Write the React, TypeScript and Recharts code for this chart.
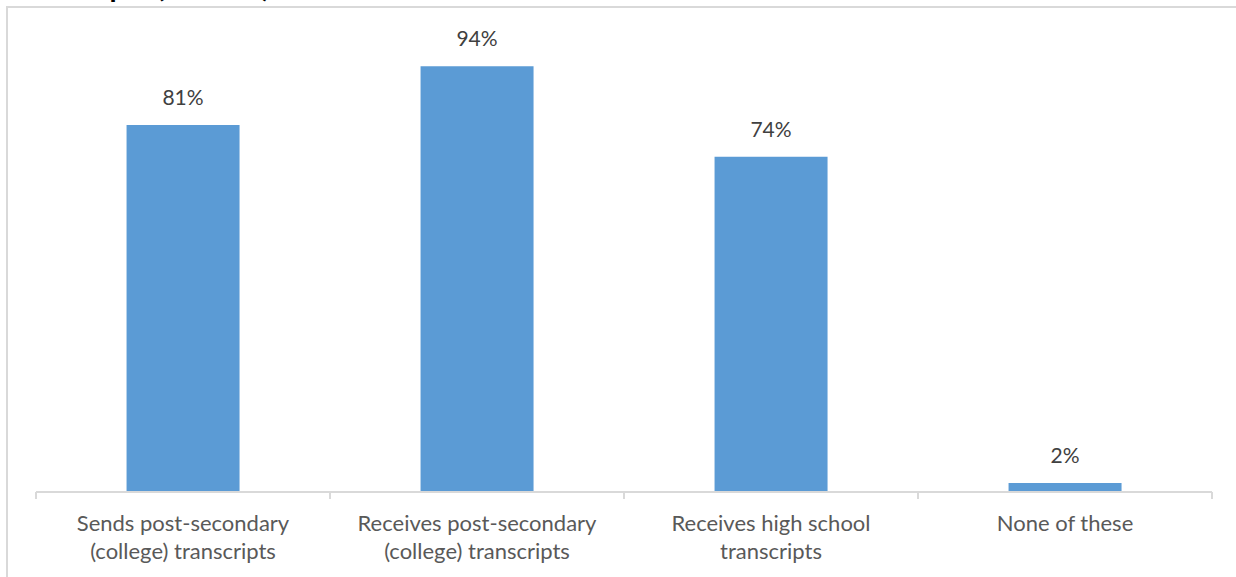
import { BarChart, Bar, XAxis, YAxis, LabelList } from "recharts";

// share of respondents handling each kind of transcript
const categories = [
    "Sends post-secondary (college) transcripts",
    "Receives post-secondary (college) transcripts",
    "Receives high school transcripts",
    "None of these",
];
const tickLabels = [
    ["Sends post-secondary", "(college) transcripts"],
    ["Receives post-secondary", "(college) transcripts"],
    ["Receives high school", "transcripts"],
    ["None of these"],
];
const percents = [81, 94, 74, 2];

const data = categories.map((name, i) => ({ name, value: percents[i] }));

const FONT = "Lato, 'Open Sans', sans-serif";
const GRID = "#D9D9D9";

// tick label split in lines, with the tick marks sitting on the band edges
const CategoryTick = (props: any) => {
    const { x, y, payload, index, visibleTicksCount } = props;
    const half = payload.offset ?? 147;
    const lines = tickLabels[index] ?? [payload.value];
    const last = index === visibleTicksCount - 1;
    return (
        <g>
            <line x1={x - half} y1={y} x2={x - half} y2={y + 7} stroke={GRID} strokeWidth={2} />
            {last && (
                <line x1={x + half} y1={y} x2={x + half} y2={y + 7} stroke={GRID} strokeWidth={2} />
            )}
            {lines.map((ln: string, i: number) => (
                <text
                    key={i}
                    x={x}
                    y={y + 39 + i * 28}
                    textAnchor="middle"
                    fill="#595959"
                    fontSize={22}
                    fontFamily={FONT}
                >
                    {ln}
                </text>
            ))}
        </g>
    );
};

const App = () => {
    return (
        <div
            style={{
                position: "absolute",
                left: 0,
                top: 0,
                width: 1236,
                height: 577,
                overflow: "hidden",
                background: "#fff",
            }}
        >
            <div
                style={{
                    position: "absolute",
                    right: 966,
                    top: -29,
                    fontFamily: FONT,
                    fontWeight: 700,
                    fontSize: 29,
                    lineHeight: 1,
                    whiteSpace: "nowrap",
                    color: "#000",
                }}
            >
                Transcripts (n = 126)
            </div>
            <div
                style={{
                    position: "absolute",
                    left: 6,
                    top: 6,
                    width: 1260,
                    height: 620,
                    border: `2px solid ${GRID}`,
                    boxSizing: "border-box",
                }}
            />
            <BarChart
                width={1236}
                height={577}
                data={data}
                margin={{ top: 39, right: 24, left: 36, bottom: 5 }}
                barCategoryGap="30.8%"
                style={{ position: "absolute", left: 0, top: 0 }}
            >
                <XAxis
                    dataKey="name"
                    height={80}
                    interval={0}
                    axisLine={{ stroke: GRID, strokeWidth: 2 }}
                    tickLine={false}
                    tickSize={0}
                    tickMargin={0}
                    tick={<CategoryTick />}
                />
                <YAxis hide domain={[0, 100]} />
                <Bar dataKey="value" fill="#5B9BD5" isAnimationActive={false}>
                    <LabelList
                        dataKey="value"
                        position="top"
                        offset={20}
                        formatter={(v: any) => `${v}%`}
                        fill="#404040"
                        fontSize={21}
                        fontFamily={FONT}
                    />
                </Bar>
            </BarChart>
        </div>
    );
};

export default App;
